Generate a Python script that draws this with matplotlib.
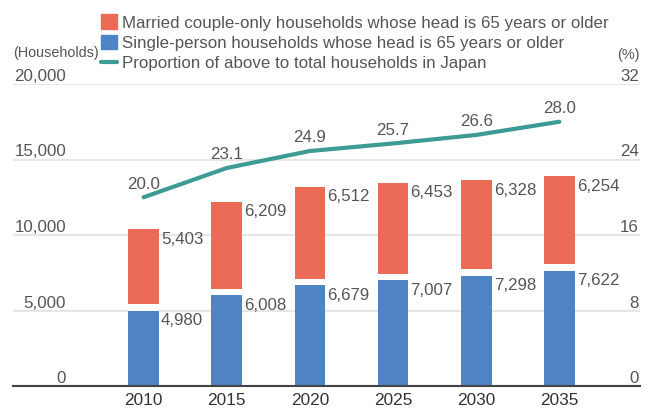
import matplotlib.pyplot as plt
from matplotlib.patches import Patch
from matplotlib.lines import Line2D
import numpy as np

years = ['2010', '2015', '2020', '2025', '2030', '2035']
single = [4980, 6008, 6679, 7007, 7298, 7622]
married = [5403, 6209, 6512, 6453, 6328, 6254]
ratio = [20.0, 23.1, 24.9, 25.7, 26.6, 28.0]

left_ticks = [0, 5000, 10000, 15000, 20000]
right_ticks = [0, 8, 16, 24, 32]

red = '#EC6B56'
blue = '#4F84C4'
teal = '#3D9B94'
grey = '#555555'

plt.rcParams['font.family'] = ['Liberation Sans', 'DejaVu Sans']
fs = 12.2

fig = plt.figure(figsize=(6.52, 4.09), dpi=100)
W, H = 652, 409
ax = fig.add_axes([12.7 / W, 1 - 386 / H, (640 - 12.7) / W, (386 - 84) / H])

x = np.arange(len(years))
w = 0.37
gap = 440  # white gap between the stacked parts

ax.bar(x, single, w, color=blue, zorder=2)
ax.bar(x, married, w, bottom=single, color=red, zorder=2)
ax.bar(x, gap, w, bottom=single, color='white', zorder=2.5)

for i in range(len(years)):
    ax.annotate(f'{single[i]:,}', (x[i] + w / 2, single[i]), xytext=(1.5, -7.2),
                textcoords='offset points', ha='left', va='center', fontsize=fs, color=grey, zorder=4)
    top = single[i] + married[i]
    ax.annotate(f'{married[i]:,}', (x[i] + w / 2, top), xytext=(1.5, -7.2),
                textcoords='offset points', ha='left', va='center', fontsize=fs, color=grey, zorder=4)

ax.set_xlim(-1.575, 5.97)
ax.set_ylim(0, 20000)
ax.set_yticks(left_ticks, [f'{t:,}' for t in left_ticks])
ax.set_xticks(x, years)
ax.yaxis.grid(True, color='#e6e6e6', linewidth=1.5, zorder=0)
ax.set_axisbelow(True)
for s in ['top', 'left', 'right']:
    ax.spines[s].set_visible(False)
ax.spines['bottom'].set_color('#444444')
ax.spines['bottom'].set_linewidth(1.5)
ax.spines['bottom'].set_zorder(5)
ax.tick_params(axis='x', length=0, pad=4.8, labelsize=12.4, labelcolor='#333333')
ax.tick_params(axis='y', length=0, pad=-38.4, labelsize=fs, labelcolor=grey)
for lab in ax.get_yticklabels():
    lab.set_verticalalignment('bottom')

ax2 = ax.twinx()
ax2.set_ylim(0, 32)
ax2.plot(x, ratio, color=teal, linewidth=3, solid_capstyle='round', zorder=3)
for i in range(len(years)):
    ax2.annotate(f'{ratio[i]:.1f}', (x[i], ratio[i]), xytext=(0, 9.5),
                 textcoords='offset points', ha='center', va='center', fontsize=fs, color=grey)
ax2.set_yticks(right_ticks, [str(t) for t in right_ticks])
ax2.tick_params(axis='y', length=0, pad=-0.8, labelsize=fs, labelcolor=grey)
for lab in ax2.get_yticklabels():
    lab.set_verticalalignment('bottom')
    lab.set_horizontalalignment('right')
for s in ['top', 'left', 'right', 'bottom']:
    ax2.spines[s].set_visible(False)

fig.text(12.7 / W, 1 - 53.5 / H, '(Households)', fontsize=10.4, color=grey, ha='left', va='center')
fig.text(640 / W, 1 - 55 / H, '(%)', fontsize=10.4, color=grey, ha='right', va='center')

handles = [Patch(color=red), Patch(color=blue), Line2D([], [], color=teal, linewidth=3, solid_capstyle='round')]
labels = ['Married couple-only households whose head is 65 years or older',
          'Single-person households whose head is 65 years or older',
          'Proportion of above to total households in Japan']
fig.legend(handles, labels, loc='upper left', bbox_to_anchor=(101 / W, 1 - 14.5 / H), frameon=False,
           fontsize=fs, labelcolor=grey, handlelength=0.94, handleheight=0.94, handletextpad=0.31,
           labelspacing=0.25, borderpad=0, borderaxespad=0)

fig.savefig('out.png', dpi=100)
